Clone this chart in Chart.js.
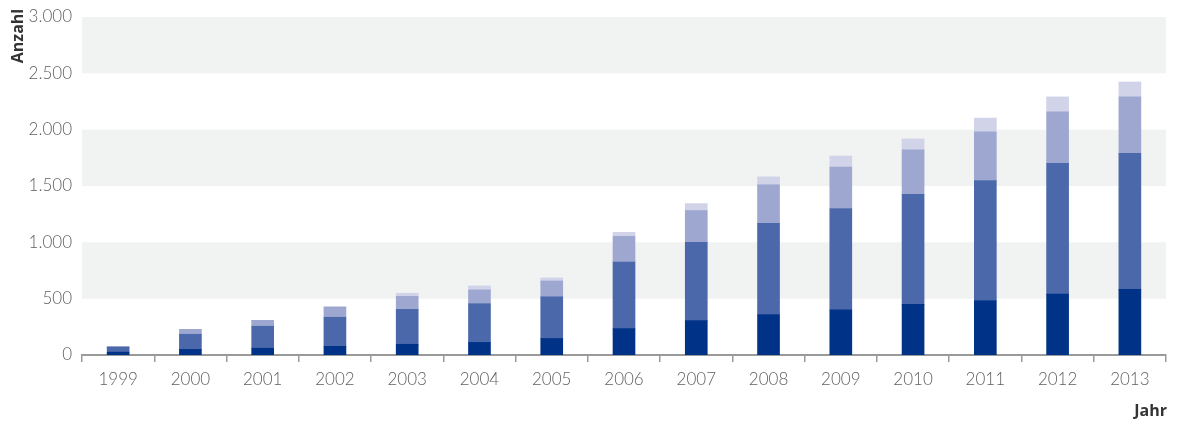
<!DOCTYPE html>
<html lang="de">
<head>
<meta charset="utf-8">
<title>Anzahl je Jahr</title>
<script src="https://cdn.jsdelivr.net/npm/chart.js@4/dist/chart.umd.min.js"></script>
<style>
  html, body { margin: 0; padding: 0; background: #fff; }
  #wrap { width: 1178px; height: 421px; position: relative; }
</style>
</head>
<body>
<div id="wrap"><canvas id="jahresChart"></canvas></div>
<script>
// Jahre auf der x-Achse
const jahre = ['1999', '2000', '2001', '2002', '2003', '2004', '2005', '2006',
    '2007', '2008', '2009', '2010', '2011', '2012', '2013'];

// Gestapelte Anteile (von unten nach oben)
const serieA = [25, 50, 60, 77, 95, 112, 147, 235, 305, 358, 402, 449, 484, 540, 583];
const serieB = [45, 134, 195, 258, 310, 343, 369, 590, 695, 810, 898, 977, 1065, 1161, 1206];
const serieC = [5, 44, 53, 88, 116, 123, 141, 228, 282, 343, 369, 396, 431, 458, 502];
const serieD = [0, 0, 0, 9, 27, 35, 27, 36, 62, 70, 97, 96, 123, 132, 132];

// Grau hinterlegte Wertebereiche
const baender = [[500, 1000], [1500, 2000], [2500, 3000]];

const yMax = 3000;
const yStep = 500;

const farben = ['#003287', '#4a68aa', '#9ea7d0', '#d1d3e9'];
const textFarbe = '#5f5f5f';
const achsenFarbe = '#9a9a9a';
const schrift = 'Lato, "Open Sans", sans-serif';

function formatZahl(v) {
    return String(v).replace(/\B(?=(\d{3})+(?!\d))/g, '.');
}

// Hintergrundbänder hinter den Balken
const baenderPlugin = {
    id: 'baender',
    beforeDatasetsDraw(chart) {
        const { ctx, chartArea, scales } = chart;
        ctx.save();
        ctx.fillStyle = '#f1f2f2';
        baender.forEach(([von, bis]) => {
            const yTop = scales.y.getPixelForValue(bis);
            const yBottom = scales.y.getPixelForValue(von);
            ctx.fillRect(chartArea.left, yTop, chartArea.right - chartArea.left, yBottom - yTop);
        });
        ctx.restore();
    }
};

// Achsentitel "Anzahl" und "Jahr"
const titelPlugin = {
    id: 'achsentitel',
    afterDraw(chart) {
        const { ctx, chartArea } = chart;
        ctx.save();
        ctx.fillStyle = '#333333';
        ctx.font = 'bold 16px "Open Sans", sans-serif';
        ctx.textBaseline = 'middle';

        ctx.translate(18, 36);
        ctx.rotate(-Math.PI / 2);
        ctx.textAlign = 'center';
        ctx.fillText('Anzahl', 0, 0);
        ctx.setTransform(1, 0, 0, 1, 0, 0);

        ctx.textAlign = 'right';
        ctx.fillText('Jahr', chartArea.right + 1, 411);
        ctx.restore();
    }
};

function balkenSatz(label, daten, farbe) {
    return {
        label: label,
        data: daten,
        backgroundColor: farbe,
        borderWidth: 0,
        barThickness: 22,
        stack: 'gesamt'
    };
}

new Chart(document.getElementById('jahresChart'), {
    type: 'bar',
    data: {
        labels: jahre,
        datasets: [
            balkenSatz('A', serieA, farben[0]),
            balkenSatz('B', serieB, farben[1]),
            balkenSatz('C', serieC, farben[2]),
            balkenSatz('D', serieD, farben[3])
        ]
    },
    options: {
        responsive: true,
        maintainAspectRatio: false,
        animation: false,
        layout: { padding: { top: 17, right: 12, bottom: 0, left: 0 } },
        plugins: {
            legend: { display: false },
            tooltip: { enabled: false }
        },
        scales: {
            x: {
                stacked: true,
                offset: true,
                grid: {
                    offset: true,
                    drawOnChartArea: false,
                    drawTicks: true,
                    tickLength: 7,
                    color: achsenFarbe,
                    lineWidth: 1.5
                },
                border: { display: true, color: achsenFarbe, width: 2 },
                ticks: {
                    color: textFarbe,
                    font: { family: schrift, size: 17, weight: 300 },
                    padding: 7,
                    maxRotation: 0
                },
                afterFit: (s) => { s.height = 66; }
            },
            y: {
                stacked: true,
                min: 0,
                max: yMax,
                grid: { display: false },
                border: { display: false },
                ticks: {
                    stepSize: yStep,
                    color: textFarbe,
                    font: { family: schrift, size: 17, weight: 300 },
                    padding: 2,
                    callback: (v) => formatZahl(v)
                },
                afterFit: (s) => { s.width = 82; }
            }
        }
    },
    plugins: [baenderPlugin, titelPlugin]
});
</script>
</body>
</html>
